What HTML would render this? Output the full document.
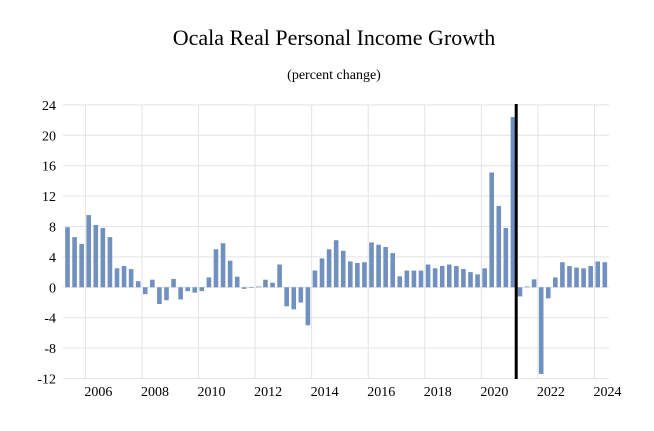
<!DOCTYPE html>
<html><head><meta charset="utf-8"><style>
body{margin:0;background:#fff;}
svg{display:block;font-family:"Liberation Serif",serif;}
</style></head><body>
<svg id="chart" width="654" height="431">
<text x="334" y="45" text-anchor="middle" font-size="22" fill="#000">Ocala Real Personal Income Growth</text>
<text x="334" y="79" text-anchor="middle" font-size="14" fill="#000">(percent change)</text>
<g id="grid"></g><g id="bars"></g><g id="axes"></g>
</svg>
<script>
const startYear = 2005, startQuarter = 2;
const values = [7.9,6.6,5.7,9.5,8.2,7.8,6.6,2.5,2.8,2.4,0.8,-0.9,1.0,-2.2,-1.7,1.1,-1.6,-0.5,-0.7,-0.5,1.3,5.0,5.8,3.5,1.4,-0.2,0.0,0.1,1.0,0.6,3.0,-2.5,-2.9,-2.0,-5.0,2.2,3.8,5.0,6.2,
4.8,3.4,3.2,3.3,5.9,5.6,5.3,4.5,1.45,2.2,2.2,2.2,3.0,2.5,2.8,3.0,2.8,2.4,2.0,1.7,2.5,15.1,10.7,7.8,22.4,-1.2,0.1,1.05,-11.4,-1.45,1.3,3.3,2.8,2.6,2.5,2.8,3.4,3.3];
const yTicks = [-12,-8,-4,0,4,8,12,16,20,24];
const xTickYears = [2006,2008,2010,2012,2014,2016,2018,2020,2022,2024];
const markerIndex = 63;

const NS="http://www.w3.org/2000/svg";
const step=7.07, x0=67.5;
function xIdx(i){return x0+i*step;}
function yearLine(y){return x0+((y-startYear)*4-(startQuarter-1))*step-3.3;}
function yv(v){return 287.3-v*7.6;}
function mk(tag,attrs,parent){const e=document.createElementNS(NS,tag);for(const k in attrs)e.setAttribute(k,attrs[k]);document.getElementById(parent).appendChild(e);return e;}

yTicks.forEach(t=>{
  const l=mk('line',{x1:63,x2:609,y1:yv(t),y2:yv(t),stroke:'#e3e3e3','stroke-width':1},'grid');
  
  
  const tx=mk('text',{x:56,y:yv(t)+5,'text-anchor':'end','font-size':14,fill:'#000'},'axes');
  tx.textContent=t;
  
  
});
xTickYears.forEach(y=>{
  const gx=yearLine(y);
  const l=mk('line',{x1:gx,x2:gx,y1:yv(24),y2:yv(-12),stroke:'#e3e3e3','stroke-width':1},'grid');
  
  
  const tx=mk('text',{x:gx+13,y:396,'text-anchor':'middle','font-size':14,fill:'#000'},'axes');
  tx.textContent=y;
  
  
});
values.forEach((v,i)=>{
  const cx=xIdx(i), top=Math.min(yv(v),yv(0)), h=Math.max(Math.abs(yv(v)-yv(0)),0.6);
  const r=mk('rect',{x:cx-2.3,y:top,width:4.6,height:h,fill:'#7090c0'},'bars');
  
  
});
const mx=xIdx(markerIndex)+3.3;
const ml=mk('line',{x1:mx,x2:mx,y1:104,y2:379,stroke:'#000','stroke-width':3},'axes');


</script>
</body></html>
